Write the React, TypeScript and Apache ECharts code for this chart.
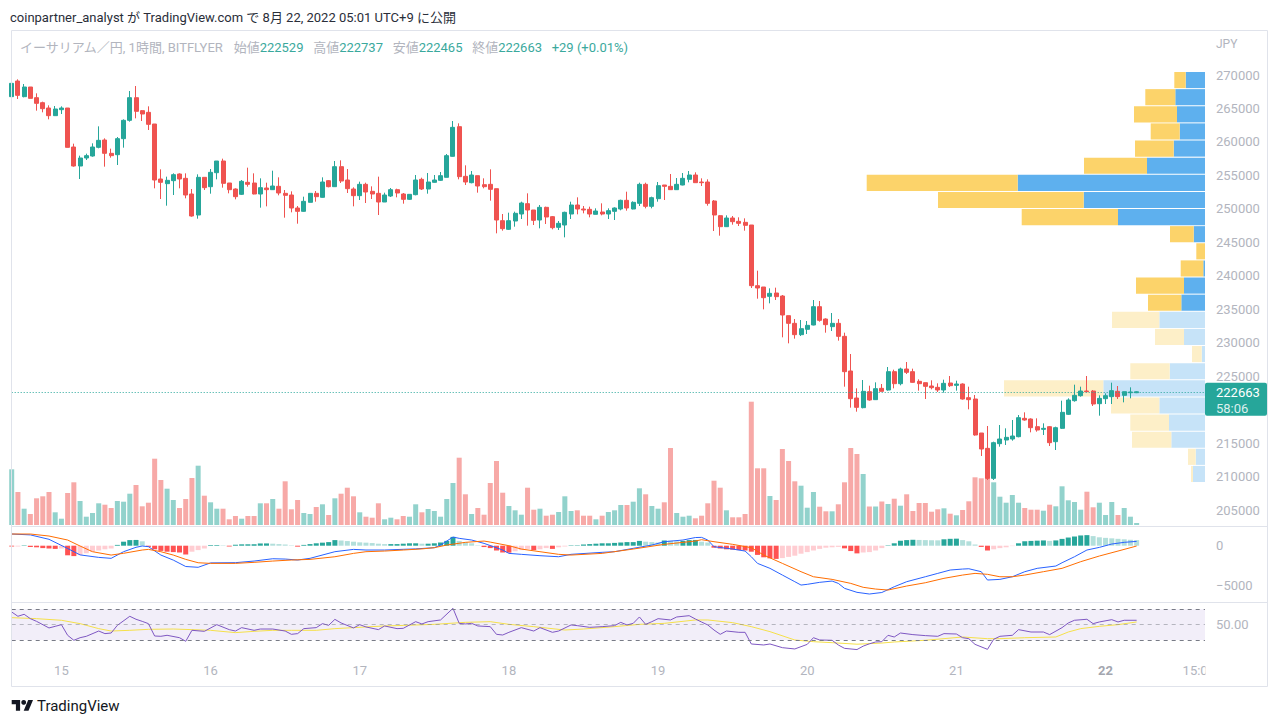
import React, { useEffect, useRef } from "react";
import * as echarts from "echarts";

// ---------- time axis ----------
const START_DAY = 14;
const START_HOUR = 16;
const SLOT_COUNT = 193;
const EXTRA_LABEL_INDEX = 191; // "15:00" on the 22nd

// ---------- candles: [open, close, low, high] ----------
const candles: [number, number, number, number][] = [
  [266762, 268754, 266015, 269153], [269103, 266961, 266413, 269352], [266762, 268206, 266662, 268655], [268206, 266513, 266513, 268206],
  [266612, 265766, 264670, 267260], [265865, 264969, 264421, 266015], [265068, 263923, 263375, 265467], [263923, 264919, 263923, 265367],
  [264819, 265068, 264172, 265317], [265068, 259191, 259191, 265068], [259241, 256401, 256302, 259739], [256401, 257597, 254459, 257946],
  [257597, 257946, 257298, 258245], [257896, 259241, 257796, 259789], [259191, 260237, 259041, 262329], [260287, 258294, 256302, 260536],
  [258294, 257946, 257647, 258992], [258095, 260486, 256551, 260735], [260486, 263225, 259141, 263375], [263225, 266612, 263026, 267609],
  [266612, 264570, 263524, 268356], [264670, 264172, 263126, 264769], [264421, 262628, 261781, 265317], [262677, 254309, 253064, 262677],
  [254459, 253961, 251470, 255904], [253762, 254260, 250474, 254808], [254210, 255106, 252068, 255306], [255206, 254459, 253064, 255306],
  [254559, 252068, 251570, 255306], [252217, 248930, 248830, 252965], [249079, 254708, 248531, 255156], [254708, 253164, 252815, 254708],
  [253313, 255455, 252267, 255953], [255405, 257149, 254410, 257149], [257149, 253811, 253164, 257498], [253861, 252865, 252317, 253861],
  [252965, 251819, 251420, 253064], [252168, 254110, 252068, 254309], [253961, 253662, 253313, 256153], [253861, 252217, 252168, 255306],
  [252217, 253164, 250175, 254559], [253114, 252865, 250375, 253911], [252865, 253413, 252815, 255704], [253363, 252367, 252018, 254708],
  [252317, 252018, 248681, 252815], [252068, 250126, 249478, 252616], [250126, 249628, 247784, 250425], [249628, 251121, 249578, 251819],
  [250972, 252317, 250972, 252367], [252317, 251819, 251072, 252666], [251720, 254011, 251670, 254708], [254210, 253313, 253214, 254310],
  [253313, 256302, 253263, 257149], [256302, 254160, 253862, 257248], [254310, 253014, 252367, 255953], [252965, 251969, 250375, 253214],
  [251969, 253662, 251321, 254061], [253662, 252516, 250873, 253911], [252616, 252218, 251470, 253363], [252317, 251022, 249079, 254808],
  [251022, 252068, 251022, 252417], [251919, 252865, 251769, 253114], [252865, 252367, 251720, 253014], [252218, 251420, 250773, 252367],
  [251420, 252168, 251321, 252168], [252118, 254310, 252018, 255057], [254410, 252965, 252815, 254658], [252965, 254011, 252267, 255356],
  [253961, 254310, 253911, 255057], [254260, 254957, 254160, 255505], [254708, 257946, 254708, 258195], [257846, 262180, 257797, 263126],
  [262279, 254808, 254410, 262777], [254858, 254011, 253563, 256501], [253911, 255057, 253812, 255655], [254957, 253413, 252417, 254957],
  [253612, 253313, 253064, 254559], [253662, 252915, 251221, 255904], [253014, 248332, 246340, 253014], [248232, 247037, 246738, 249229],
  [246938, 248232, 246838, 249429], [248183, 249328, 247336, 249578], [249229, 250873, 248482, 251072], [250773, 249827, 247486, 252317],
  [249827, 248283, 247585, 249827], [248333, 250225, 247087, 250574], [250225, 248781, 247735, 250325], [248831, 247187, 246938, 248930],
  [247237, 247834, 246838, 248183], [247585, 249478, 245742, 249578], [249229, 250574, 248482, 251072], [250574, 249976, 249179, 251719],
  [249976, 249827, 249328, 250424], [249926, 249229, 248731, 250325], [249179, 249677, 249179, 250076], [249528, 249229, 249030, 250823],
  [249229, 249727, 248482, 250076], [249627, 250126, 248333, 250225], [249976, 251271, 249777, 251371], [251271, 250126, 249727, 252566],
  [249976, 250972, 249926, 251122], [250823, 253662, 250424, 253911], [253662, 250375, 250076, 253911], [250375, 251670, 250076, 251819],
  [251520, 253463, 251072, 254011], [253562, 253363, 251321, 253562], [253363, 252865, 252815, 255206], [252865, 253662, 252815, 254608],
  [253562, 254558, 253512, 255355], [254409, 255057, 253961, 255654], [255057, 253911, 253911, 255455], [254011, 253911, 253413, 254558],
  [254011, 250823, 250474, 254409], [251172, 249079, 246689, 251321], [248980, 247336, 245991, 249079], [247336, 248631, 247286, 249030],
  [248631, 248083, 247635, 248930], [248133, 247834, 247436, 248731], [247984, 247535, 246739, 248582], [247585, 238519, 238171, 247585],
  [238519, 238171, 236577, 240761], [238320, 236727, 234983, 238320], [236927, 237375, 235881, 238122], [237425, 236877, 236379, 238222],
  [236976, 234137, 230800, 237126], [234038, 232892, 229904, 234038], [232892, 231199, 230601, 233540], [231199, 232095, 231000, 233390],
  [231996, 232593, 231298, 233241], [232643, 235382, 232593, 236379], [235382, 233340, 233141, 236229], [233540, 232693, 231497, 233639],
  [232394, 232892, 231746, 234436], [232892, 230950, 230302, 233540], [230950, 225670, 223428, 231497], [225769, 221635, 220291, 228309],
  [221735, 220340, 219692, 223179], [220291, 222731, 220191, 224424], [222681, 221436, 221336, 223577], [221486, 223129, 221436, 224075],
  [223179, 222731, 222731, 223827], [222930, 225670, 222831, 226367], [225670, 223876, 223179, 225969], [223876, 226068, 223627, 226268],
  [226068, 225570, 225321, 227114], [225670, 224075, 224026, 226118], [224225, 223876, 222831, 224524], [224026, 223478, 221585, 224026],
  [223528, 223279, 223030, 224375], [223329, 222930, 222631, 223926], [222930, 223926, 222532, 224475], [223976, 223577, 223378, 225022],
  [223627, 223827, 222831, 224325], [223827, 221585, 221486, 223926], [221784, 221486, 220041, 223428], [221585, 216206, 216106, 222183],
  [216505, 214113, 213067, 216505], [214212, 209730, 209481, 217550], [209730, 215059, 209481, 215209], [214910, 215608, 214461, 217700],
  [215458, 215857, 214711, 217202], [215608, 216056, 215358, 218447], [215957, 218796, 215857, 219194], [218696, 218447, 218347, 219593],
  [218597, 217301, 216604, 218696], [217451, 216953, 216704, 218696], [217052, 217202, 216206, 217949], [217451, 215059, 214561, 217550],
  [215209, 217301, 213964, 217451], [217202, 219593, 217102, 221336], [219294, 221436, 219194, 221685], [221336, 222133, 221187, 223727],
  [222083, 222781, 221934, 223428], [222781, 222681, 222581, 225022], [222781, 220838, 220539, 222930], [220888, 221685, 219094, 222133],
  [221635, 222083, 220838, 222432], [221934, 222831, 220838, 224026], [222731, 221934, 221585, 223528], [222133, 222681, 221087, 222681],
  [222531, 222634, 221685, 223328], [222529, 222663, 222465, 222737],
];

// ---------- volume per candle ----------
const volumes = [
  55.7, 33, 16.3, 11, 26.7, 28.7, 33, 12.7, 6.3, 32,
  42.7, 24, 8.3, 12, 21.7, 20.3, 17, 24, 23.3, 31.3,
  40, 18.7, 22.3, 66.3, 45, 36.3, 25, 17, 26, 47,
  59.3, 29.3, 22.7, 16.3, 16.3, 5.7, 9, 6.3, 9, 9,
  21.7, 21.7, 26, 16.3, 43.7, 15.7, 25, 12, 11, 18,
  20.7, 10, 26.7, 31.3, 37.3, 28.7, 12.7, 8.3, 7.3, 21.7,
  5.7, 7.3, 5.7, 9, 8.3, 20.7, 12.7, 16, 14, 8.3,
  26, 42, 67.3, 30.7, 11, 17, 10.3, 42, 64, 32.3,
  19, 14.7, 10.3, 37.3, 15.3, 16.3, 9.3, 10.3, 13, 28.7,
  14, 14.7, 9.3, 9.3, 5.7, 9.3, 13, 14.7, 20, 20,
  23.3, 36.7, 30.7, 19, 16.3, 22.7, 77, 12, 8.3, 9.3,
  6.7, 9.3, 21.7, 44.3, 37.3, 14.7, 7.7, 7.7, 11, 123.3,
  56.7, 56.7, 29, 25, 76, 64, 43.7, 39.3, 17.3, 33,
  18.3, 13.7, 13.7, 20.7, 42.7, 77, 71, 51, 18.5, 18.5,
  23.5, 21, 26.3, 19.3, 30.7, 14, 22, 22, 13.3, 15.7,
  16.7, 11.3, 9.7, 15, 23.7, 47.7, 46.7, 48.7, 42.7, 28.3,
  22.3, 30, 22.3, 17, 15.3, 15.3, 14.3, 20.3, 18.7, 38.7,
  24.7, 23, 15.3, 33.3, 17.7, 22.3, 10, 23, 10, 17,
  8.3, 2,
];

// ---------- MACD (12, 26, close, 9) ----------
const macdHist = [
  -100, -100, 50, -150, -200, -300, -350, -400, -350, -1200,
  -1300, -1150, -950, -750, -600, -450, -350, 100, 500, 700,
  720, 550, -150, -450, -650, -750, -800, -850, -1100, -750,
  -550, -350, 80, 80, 50, -100, 120, 170, 175, 180,
  280, 285, 250, 200, 150, 50, -120, 100, 200, 300,
  380, 450, 700, 650, 580, 500, 420, 380, 330, 250,
  200, 200, 200, 250, 300, 300, 250, 250, 300, 400,
  600, 1100, 600, 450, 300, 50, -170, -300, -600, -850,
  -870, -700, -550, -400, -550, -450, -300, -400, -200, -100,
  50, 50, 150, 200, 250, 300, 300, 350, 400, 450,
  450, 600, 500, 450, 400, 650, 620, 550, 600, 700,
  720, 500, 400, -250, -350, -450, -500, -550, -600, -750,
  -1150, -1450, -1580, -1650, -1550, -1400, -1250, -1000, -800, -600,
  -400, -250, -200, -150, -330, -670, -960, -850, -800, -600,
  -300, 50, 300, 620, 700, 740, 720, 700, 680, 670,
  800, 860, 880, 700, 550, 150, -150, -600, -450, -300,
  -200, -50, 300, 550, 600, 630, 660, 600, 660, 850,
  1020, 1150, 1280, 1320, 1200, 1050, 980, 920, 860, 800,
  740, 700,
];

// [candle index, value]
const macdLine: [number, number][] = [
  [0, 1460], [3, 1350], [6, 800], [9, -350], [11, -1150], [14, -1460], [16, -1580], [18, -750], [20, -200], [21, -40],
  [22, -120], [24, -1170], [26, -1800], [28, -2600], [30, -2700], [32, -2150], [36, -2120], [39, -1920], [42, -1630], [44, -1670],
  [46, -1790], [48, -1580], [52, -750], [55, -460], [57, -540], [60, -540], [63, -450], [65, -400], [68, -250], [69, 80],
  [71, 1080], [72, 920], [74, 710], [76, 290], [79, -540], [80, -960], [82, -1080], [85, -1250], [88, -1380], [90, -1080],
  [95, -830], [97, -750], [100, -330], [103, 80], [105, 500], [108, 710], [110, 1020], [111, 1040], [112, 710], [113, -130],
  [116, -420], [118, -670], [119, -1380], [120, -2210], [122, -2830], [124, -3670], [126, -4500], [127, -4920], [128, -4830], [130, -4580],
  [132, -4420], [133, -4710], [134, -5330], [136, -5830], [138, -6040], [140, -5850], [142, -5130], [144, -4500], [147, -3880], [149, -3460],
  [151, -3040], [153, -2920], [154, -2880], [156, -3250], [157, -4290], [159, -4210], [161, -3880], [163, -3250], [165, -2830], [168, -2540],
  [169, -2130], [171, -1380], [173, -540], [175, -210], [177, 210], [179, 420], [181, 540],
];

const signalLine: [number, number][] = [
  [0, 1460], [3, 1460], [6, 1210], [9, 710], [11, -40], [13, -750], [16, -1170], [18, -950], [21, -540], [22, -460],
  [24, -750], [26, -1170], [28, -1710], [30, -2130], [32, -2210], [36, -2210], [39, -2080], [42, -1920], [45, -1790], [48, -1710],
  [52, -1380], [55, -960], [57, -750], [60, -670], [63, -540], [66, -400], [68, -250], [70, 80], [73, 420], [76, 580],
  [77, 450], [80, 0], [82, -420], [85, -750], [88, -1080], [90, -1170], [95, -960], [100, -420], [105, 170], [110, 580],
  [111, 750], [113, 500], [116, 170], [119, -250], [121, -1170], [124, -2210], [127, -3250], [129, -3880], [132, -4210], [135, -4710],
  [137, -5200], [139, -5420], [141, -5540], [144, -5040], [147, -4630], [150, -4080], [153, -3670], [155, -3460], [157, -3580], [159, -3880],
  [161, -3880], [163, -3670], [166, -3250], [169, -2830], [172, -2000], [175, -1290], [178, -670], [181, -40],
];

// ---------- RSI (14) and its MA ----------
const rsiLine: [number, number][] = [
  [0, 66.5], [1, 60.9], [2, 63.5], [3, 57.8], [4, 54.3], [6, 45.7], [7, 47.8], [8, 50], [9, 36.1], [10, 29.6],
  [11, 33], [12, 34.8], [14, 41.7], [15, 38.3], [16, 39.1], [17, 49.1], [19, 60.9], [20, 57], [21, 54.3], [22, 51.3],
  [23, 35.2], [24, 34.8], [25, 36.1], [27, 33], [28, 28.3], [29, 42.6], [31, 41.3], [33, 50], [35, 43.5], [36, 41.7],
  [37, 46.1], [39, 42.6], [40, 44.3], [42, 44.3], [44, 41.7], [45, 37.4], [46, 38.3], [47, 44.8], [49, 46.1], [50, 51.3],
  [51, 49.1], [52, 56.9], [53, 52.2], [55, 45.7], [56, 50], [57, 47], [59, 43.5], [60, 48.3], [62, 44.8], [63, 45.2],
  [65, 53.9], [66, 50.9], [67, 53.9], [69, 56.1], [71, 71.3], [72, 51.7], [73, 50.9], [74, 51.7], [75, 48.3], [77, 47.4],
  [78, 37.4], [79, 36.5], [80, 40], [82, 46.1], [84, 41.7], [85, 46.1], [87, 40], [88, 41.7], [90, 49.6], [91, 48.7],
  [93, 46.5], [95, 47.4], [97, 48.7], [98, 53], [99, 49.6], [100, 51.7], [101, 60], [102, 50.4], [103, 53.9], [104, 57.8],
  [106, 56.1], [107, 60], [109, 61.7], [110, 57.4], [111, 53.4], [112, 49.6], [113, 43], [114, 37.4], [115, 41.7], [117, 40],
  [118, 40], [119, 24.8], [121, 23.5], [122, 24.8], [124, 20], [126, 18.3], [127, 21.3], [128, 24.3], [129, 33], [130, 30],
  [132, 29.6], [133, 23.5], [134, 19.1], [136, 17.5], [137, 22], [138, 25], [139, 27.4], [140, 27.8], [141, 36.1], [142, 33.9],
  [143, 39.1], [145, 37], [147, 35.7], [149, 34.8], [150, 38.3], [152, 37.8], [153, 33], [154, 31.7], [155, 24.3], [157, 17.8],
  [158, 30.9], [159, 34.8], [161, 36.1], [162, 43.5], [164, 40.4], [166, 40.4], [167, 37], [169, 46.1], [170, 52.2], [171, 55.7],
  [173, 57], [174, 51.3], [175, 53.5], [177, 56.5], [178, 53.5], [179, 55.7], [181, 55.7],
];

const rsiMa: [number, number][] = [
  [0, 59.1], [4, 57.8], [8, 55.7], [11, 51.3], [14, 44.8], [16, 41.7], [19, 42.6], [22, 43.9], [26, 44.3], [29, 43.5],
  [32, 42.6], [36, 39.6], [39, 41.3], [42, 42.6], [45, 42.6], [49, 42.6], [52, 44.8], [55, 46.1], [57, 47], [60, 48.3],
  [63, 49], [68, 50.4], [73, 53], [77, 53.9], [80, 50.4], [84, 47.4], [89, 43], [92, 44.3], [97, 47.4], [101, 50.4],
  [105, 51.7], [110, 56.1], [112, 56.1], [116, 52.6], [119, 47.4], [122, 40.9], [126, 30], [129, 27.8], [132, 26.5], [136, 24.5],
  [140, 26], [142, 27.4], [147, 29.6], [153, 33.9], [157, 31.7], [159, 31.7], [163, 33], [168, 33.9], [170, 40.4], [172, 44.8],
  [175, 47.8], [178, 50], [181, 53.5],
];

// ---------- visible-range volume profile (rows from bottom) ----------
const profileRowStart = 209032;
const profileRowStep = 2559;
const profileUp = [12, 9.3, 33.7, 36, 45.7, 101.7, 35.3, 3.3, 21, 45.7, 23.7, 21, 1.7, 0, 11.3, 87, 121.3, 187.3, 58, 31.3, 25.3, 28, 29.7, 19.3];
const profileDown = [2, 7.7, 39.3, 38.7, 48.3, 99.3, 39.4, 9.7, 29, 47.3, 33.3, 48, 22.6, 8.7, 23.7, 96.3, 145.7, 151, 63, 38.7, 29, 43, 30, 11.4];
const valueAreaFromRow = 10;

// ---------- texts ----------
const headerText = "coinpartner_analyst が TradingView.com で 8月 22, 2022 05:01 UTC+9 に公開";
const symbolText = "イーサリアム／円, 1時間, BITFLYER";
const countdownText = "58:06";

const FONT = 'Roboto, "Noto Sans CJK JP", sans-serif';
const UP = "#26a69a";
const DOWN = "#ef5350";
const AXIS_TEXT = "#b2b5be";

const timeCats = Array.from({ length: SLOT_COUNT }, (_, i) => {
  const h = START_HOUR + i;
  const d = START_DAY + Math.floor(h / 24);
  const hh = h % 24;
  return `${d} ${String(hh).padStart(2, "0")}:00`;
});

export default function App() {
  const ref = useRef<HTMLDivElement>(null);

  useEffect(() => {
    if (!ref.current) return;
    const chart = echarts.init(ref.current, undefined, { renderer: "svg" });

    const last = candles[candles.length - 1];
    const prevClose = candles[candles.length - 2][1];
    const change = last[1] - prevClose;
    const changePct = ((change / prevClose) * 100).toFixed(2);

    const gridLeft = 11.7;
    const gridRight = 75;

    const volumeData = volumes.map((v, i) => ({
      value: v,
      itemStyle: { color: candles[i][1] >= candles[i][0] ? "rgba(38,166,154,0.5)" : "rgba(239,83,80,0.5)" },
    }));

    const histData = macdHist.map((v, i) => {
      const prev = i > 0 ? macdHist[i - 1] : 0;
      let color;
      if (v >= 0) color = v >= prev ? "#26a69a" : "#b2dfdb";
      else color = v < prev ? "#ff5252" : "#ffcdd2";
      return { value: v, itemStyle: { color } };
    });

    const profileData = profileUp.map((u, i) => [u, profileRowStart + i * profileRowStep, profileDown[i], profileRowStart + (i + 1) * profileRowStep, i]);

    // the price tag covers the axis label just below the last price
    const coveredByTag = (v: number) => v < last[1] && last[1] - v < 3500;

    const hiddenCat = (gridIndex: number) => ({
      type: "category",
      gridIndex,
      data: timeCats,
      boundaryGap: false,
      axisLine: { show: false },
      axisTick: { show: false },
      axisLabel: { show: false },
      splitLine: { show: false },
    });

    const option: any = {
      animation: false,
      backgroundColor: "#ffffff",
      textStyle: { fontFamily: FONT },
      grid: [
        { left: gridLeft, right: gridRight, top: 75, height: 435 },
        { left: gridLeft, right: gridRight, top: 395, height: 130 },
        { left: gridLeft, right: gridRight, top: 505.7, height: 120 },
        { left: gridLeft, right: gridRight, top: 586.3, height: 76.7 },
      ],
      xAxis: [
        hiddenCat(0),
        { type: "value", gridIndex: 0, position: "top", inverse: true, min: 0, max: 1193.3, show: false },
        hiddenCat(1),
        hiddenCat(2),
        {
          ...hiddenCat(3),
          axisLabel: {
            show: true,
            color: AXIS_TEXT,
            fontSize: 13,
            fontFamily: FONT,
            margin: 1,
            interval: (i: number) => (START_HOUR + i) % 24 === 0 || i === EXTRA_LABEL_INDEX,
            formatter: (val: string) => {
              const [d, t] = val.split(" ");
              if (t === "00:00") return d === "22" ? `{b|${d}}` : d;
              return t;
            },
            rich: { b: { fontWeight: "bold", color: "#a3a6af", fontSize: 13, fontFamily: FONT } },
          },
        },
      ],
      yAxis: [
        {
          type: "value", gridIndex: 0, position: "right", min: 205000, max: 270000, interval: 5000,
          axisLine: { show: false }, axisTick: { show: false }, splitLine: { show: false },
          axisLabel: {
            color: AXIS_TEXT, fontSize: 13, margin: 11, fontFamily: FONT,
            formatter: (v: number) => (coveredByTag(v) ? "" : String(v)),
          },
        },
        { type: "value", gridIndex: 1, min: 0, max: 130, show: false },
        {
          type: "value", gridIndex: 2, position: "right", min: -10000, max: 5000, interval: 5000,
          axisLine: { show: false }, axisTick: { show: false }, splitLine: { show: false },
          axisLabel: {
            color: AXIS_TEXT, fontSize: 13, margin: 11, fontFamily: FONT,
            formatter: (v: number) => (v === 0 ? "0" : v === -5000 ? "−5000" : ""),
          },
        },
        {
          type: "value", gridIndex: 3, position: "right", min: 0, max: 100, interval: 50,
          axisLine: { show: false }, axisTick: { show: false }, splitLine: { show: false },
          axisLabel: {
            color: AXIS_TEXT, fontSize: 13, margin: 11, fontFamily: FONT,
            formatter: (v: number) => (v === 50 ? "50.00" : ""),
          },
        },
      ],
      series: [
        {
          type: "custom",
          name: "profile",
          xAxisIndex: 1,
          yAxisIndex: 0,
          z: 1,
          clip: false,
          encode: { x: 0, y: 1 },
          data: profileData,
          renderItem: (params: any, api: any) => {
            const up = api.value(0);
            const lo = api.value(1);
            const down = api.value(2);
            const hi = api.value(3);
            const row = api.value(4);
            const right = api.coord([0, hi]);
            const bottom = api.coord([0, lo]);
            const upEnd = api.coord([up, hi]);
            const allEnd = api.coord([up + down, hi]);
            const y = right[1];
            const h = bottom[1] - right[1] - 1;
            const inVA = row >= valueAreaFromRow;
            return {
              type: "group",
              children: [
                { type: "rect", shape: { x: upEnd[0], y, width: right[0] - upEnd[0], height: h }, style: { fill: inVA ? "#5eb0ee" : "#c6e3f8" } },
                { type: "rect", shape: { x: allEnd[0], y, width: upEnd[0] - allEnd[0], height: h }, style: { fill: inVA ? "#fcd36a" : "#fdefc8" } },
              ],
            };
          },
        },
        {
          type: "bar",
          name: "volume",
          xAxisIndex: 2,
          yAxisIndex: 1,
          barWidth: 5,
          z: 1,
          data: volumeData,
        },
        {
          type: "candlestick",
          name: "ETHJPY",
          xAxisIndex: 0,
          yAxisIndex: 0,
          barWidth: 4.5,
          z: 3,
          itemStyle: { color: UP, color0: DOWN, borderColor: UP, borderColor0: DOWN, borderWidth: 1 },
          data: candles,
          markLine: {
            silent: true,
            symbol: ["none", "none"],
            label: { show: false },
            lineStyle: { color: UP, type: [1, 2], width: 1 },
            data: [{ yAxis: last[1] }],
          },
        },
        {
          type: "bar",
          name: "histogram",
          xAxisIndex: 3,
          yAxisIndex: 2,
          barWidth: 5,
          data: histData,
        },
        {
          type: "line",
          name: "MACD",
          xAxisIndex: 3,
          yAxisIndex: 2,
          showSymbol: false,
          symbol: "none",
          lineStyle: { color: "#2962ff", width: 1 },
          data: macdLine,
          z: 4,
        },
        {
          type: "line",
          name: "Signal",
          xAxisIndex: 3,
          yAxisIndex: 2,
          showSymbol: false,
          symbol: "none",
          lineStyle: { color: "#ff6d00", width: 1 },
          data: signalLine,
          z: 4,
        },
        {
          type: "line",
          name: "RSI",
          xAxisIndex: 4,
          yAxisIndex: 3,
          showSymbol: false,
          symbol: "none",
          lineStyle: { color: "#7e57c2", width: 1 },
          data: rsiLine,
          z: 4,
          markArea: {
            silent: true,
            itemStyle: { color: "rgba(126,87,194,0.1)" },
            data: [[{ yAxis: 30 }, { yAxis: 70 }]],
          },
          markLine: {
            silent: true,
            symbol: ["none", "none"],
            label: { show: false },
            lineStyle: { color: "#787b86", type: [4, 4], width: 1 },
            data: [
              { yAxis: 70 },
              { yAxis: 50, lineStyle: { color: "rgba(120,123,134,0.5)", type: [4, 4], width: 1 } },
              { yAxis: 30 },
            ],
          },
        },
        {
          type: "line",
          name: "RSI MA",
          xAxisIndex: 4,
          yAxisIndex: 3,
          showSymbol: false,
          symbol: "none",
          lineStyle: { color: "#f5e04a", width: 1 },
          data: rsiMa,
          z: 3,
        },
      ],
    };

    chart.setOption(option);

    const py = chart.convertToPixel({ yAxisIndex: 0 }, last[1]) as number;

    const graphics: any[] = [
      {
        type: "text", x: 10, y: 17, z: 10,
        style: { text: headerText, fill: "#2a2e39", fontSize: 13, fontFamily: FONT, verticalAlign: "middle", align: "left" },
      },
      {
        type: "text", x: 20, y: 47, z: 10,
        style: {
          text: `{l|${symbolText}}{g|   }{l|始値}{v|${last[0]}}{g|   }{l|高値}{v|${last[3]}}{g|   }{l|安値}{v|${last[2]}}{g|   }{l|終値}{v|${last[1]}}{g|   }{v|${change >= 0 ? "+" : ""}${change} (${change >= 0 ? "+" : ""}${changePct}%)}`,
          fontSize: 13, fontFamily: FONT, verticalAlign: "middle", align: "left",
          rich: {
            l: { fill: "#b2b5be", fontSize: 13, fontFamily: FONT },
            v: { fill: "#3aa99d", fontSize: 13, fontFamily: FONT },
            g: { fill: "#b2b5be", fontSize: 13, fontFamily: FONT },
          },
        },
      },
      {
        type: "text", x: 1216, y: 44, z: 10,
        style: { text: "JPY", fill: AXIS_TEXT, fontSize: 12, fontFamily: FONT, verticalAlign: "middle", align: "left" },
      },
      {
        type: "rect", z: 20, silent: true,
        shape: { x: 1205.5, y: 658, width: 61, height: 26 },
        style: { fill: "#ffffff" },
      },
      {
        type: "rect", z: 30, silent: true,
        shape: { x: 11.5, y: 30.5, width: 1256, height: 656 },
        style: { fill: "none", stroke: "#e0e3eb", lineWidth: 1 },
      },
      {
        type: "line", z: 30, silent: true,
        shape: { x1: 11.5, y1: 526.5, x2: 1267.5, y2: 526.5 },
        style: { stroke: "#e0e3eb", lineWidth: 1 },
      },
      {
        type: "line", z: 30, silent: true,
        shape: { x1: 11.5, y1: 602.5, x2: 1267.5, y2: 602.5 },
        style: { stroke: "#e0e3eb", lineWidth: 1 },
      },
      {
        type: "rect", z: 100, silent: true,
        shape: { x: 1205, y: py - 9, width: 62, height: 33, r: 2 },
        style: { fill: UP },
      },
      {
        type: "text", x: 1216, y: py + 1, z: 101, silent: true,
        style: { text: String(last[1]), fill: "#ffffff", fontSize: 13, fontFamily: FONT, verticalAlign: "middle", align: "left" },
      },
      {
        type: "text", x: 1216, y: py + 17, z: 101, silent: true,
        style: { text: countdownText, fill: "rgba(255,255,255,0.85)", fontSize: 13, fontFamily: FONT, verticalAlign: "middle", align: "left" },
      },
      {
        type: "group", x: 11.7, y: 697.6, scaleX: 0.6, scaleY: 0.6,
        children: [
          { type: "polygon", z: 10, shape: { points: [[0, 4], [14, 4], [14, 22], [7, 22], [7, 11], [0, 11]] }, style: { fill: "#131722" } },
          { type: "circle", z: 10, shape: { cx: 20, cy: 8, r: 4 }, style: { fill: "#131722" } },
          { type: "polygon", z: 10, shape: { points: [[20, 22], [27.5, 4], [35.5, 4], [28, 22]] }, style: { fill: "#131722" } },
        ],
      },
      {
        type: "text", x: 37, y: 706, z: 10,
        style: { text: "TradingView", fill: "#131722", fontSize: 15, fontFamily: FONT, verticalAlign: "middle", align: "left" },
      },
    ];

    chart.setOption({ graphic: graphics });

    return () => {
      chart.dispose();
    };
  }, []);

  return (
    <div
      ref={ref}
      style={{ position: "fixed", left: 0, top: 0, width: 1280, height: 725, background: "#ffffff" }}
    />
  );
}
